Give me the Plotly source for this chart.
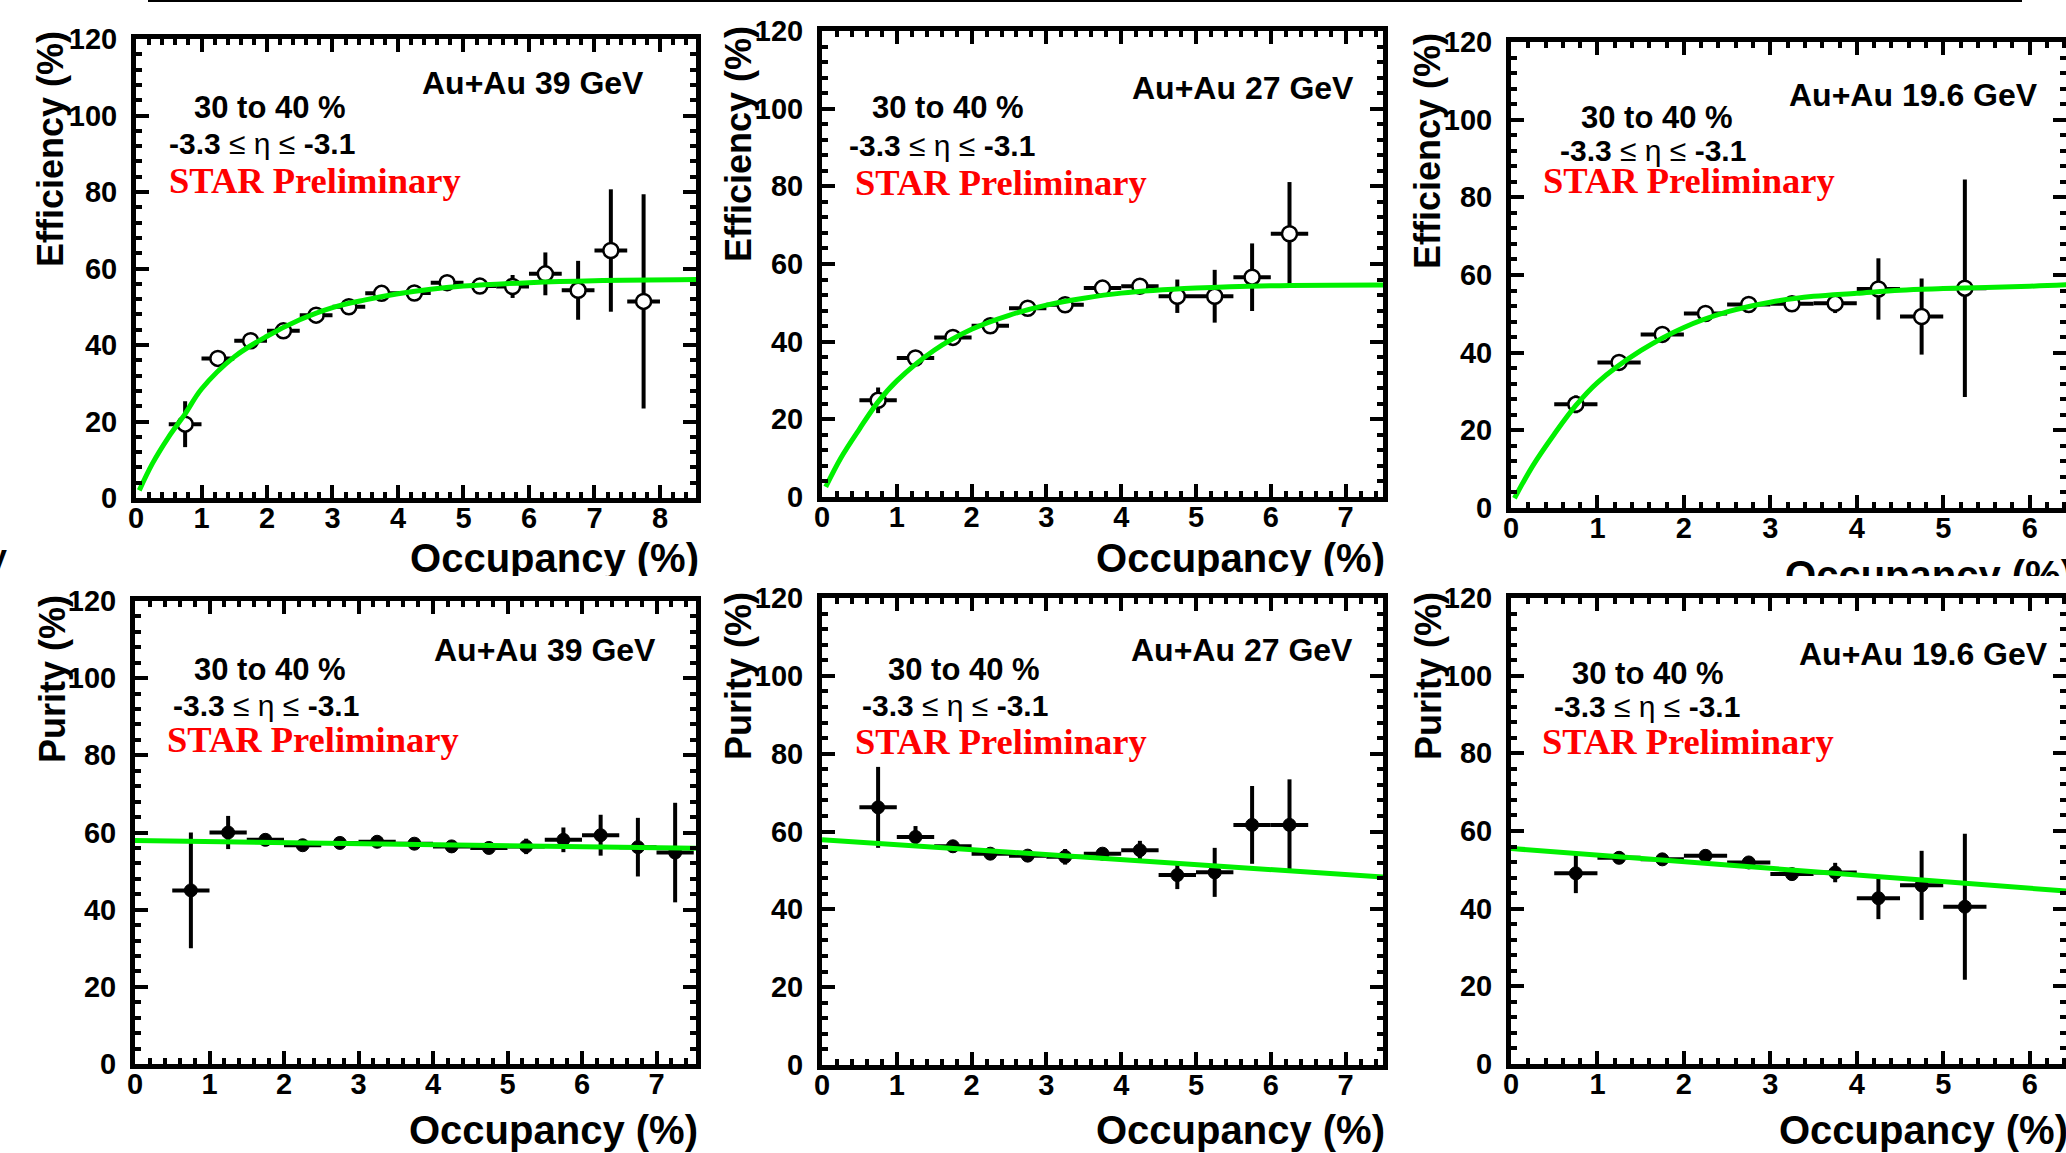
import plotly.graph_objects as go

W, H = 2066, 1153

# ---------------- data ----------------
BIN_HALF_WIDTH = 0.25

# Efficiency, Au+Au 39 GeV
eff39_x = [0.75, 1.25, 1.75, 2.25, 2.75, 3.25, 3.75, 4.25, 4.75, 5.25, 5.75, 6.25, 6.75, 7.25, 7.75]
eff39_y = [19.3, 36.5, 41.1, 43.7, 47.8, 50.0, 53.5, 53.6, 56.3, 55.4, 55.3, 58.6, 54.3, 64.7, 51.4]
eff39_e = [6.0, 1.5, 1.5, 1.5, 1.5, 1.5, 1.5, 1.5, 1.5, 1.5, 3.0, 5.6, 7.7, 16.0, 28.0]
fit39_x = [0.05, 0.25, 0.5, 0.75, 1.0, 1.5, 2.0, 2.5, 3.0, 3.5, 4.0, 4.5, 5.0, 6.0, 7.0, 8.55]
fit39_y = [2.0, 9.0, 16.0, 22.0, 28.5, 36.9, 42.3, 46.6, 49.8, 51.8, 53.4, 54.6, 55.4, 56.3, 56.8, 57.1]

# Efficiency, Au+Au 27 GeV
eff27_x = [0.75, 1.25, 1.75, 2.25, 2.75, 3.25, 3.75, 4.25, 4.75, 5.25, 5.75, 6.25]
eff27_y = [24.9, 35.8, 41.1, 44.1, 48.6, 49.5, 53.8, 54.3, 51.7, 51.7, 56.6, 67.8]
eff27_e = [3.3, 1.5, 1.5, 1.5, 1.5, 1.5, 1.5, 2.0, 4.3, 6.8, 8.7, 13.3]
fit27_x = [0.05, 0.25, 0.5, 0.75, 1.0, 1.5, 2.0, 2.5, 3.0, 3.5, 4.0, 5.0, 6.0, 7.5]
fit27_y = [2.6, 10.0, 17.5, 24.5, 29.9, 37.8, 43.2, 46.8, 49.4, 51.2, 52.5, 53.8, 54.4, 54.6]

# Efficiency, Au+Au 19.6 GeV
eff19_x = [0.75, 1.25, 1.75, 2.25, 2.75, 3.25, 3.75, 4.25, 4.75, 5.25]
eff19_y = [26.7, 37.5, 44.7, 50.1, 52.4, 52.6, 52.7, 56.4, 49.3, 56.6]
eff19_e = [2.3, 1.5, 1.5, 1.5, 1.5, 1.5, 2.5, 7.9, 9.8, 28.0]
fit19_x = [0.04, 0.25, 0.5, 0.75, 1.0, 1.5, 2.0, 2.5, 3.0, 3.5, 4.0, 4.5, 5.0, 6.0, 6.45]
fit19_y = [2.5, 10.8, 19.0, 26.4, 32.3, 40.5, 46.5, 50.5, 53.0, 54.5, 55.3, 56.1, 56.5, 57.1, 57.5]

# Purity, Au+Au 39 GeV
pur39_x = [0.75, 1.25, 1.75, 2.25, 2.75, 3.25, 3.75, 4.25, 4.75, 5.25, 5.75, 6.25, 6.75, 7.25]
pur39_y = [45.0, 60.0, 58.1, 56.7, 57.3, 57.6, 57.1, 56.4, 56.0, 56.4, 58.1, 59.3, 56.2, 54.8]
pur39_e = [15.0, 4.3, 1.5, 1.5, 1.5, 1.5, 1.0, 1.5, 1.5, 2.0, 3.2, 5.3, 7.6, 12.9]
pfit39_x = [0.0, 7.55]
pfit39_y = [57.9, 55.9]

# Purity, Au+Au 27 GeV
pur27_x = [0.75, 1.25, 1.75, 2.25, 2.75, 3.25, 3.75, 4.25, 4.75, 5.25, 5.75, 6.25]
pur27_y = [66.2, 58.6, 56.2, 54.3, 53.8, 53.5, 54.3, 55.2, 48.8, 49.5, 61.7, 61.7]
pur27_e = [10.4, 2.8, 1.5, 1.5, 1.5, 2.0, 1.5, 2.4, 3.6, 6.3, 10.0, 11.7]
pfit27_x = [0.0, 7.5]
pfit27_y = [57.9, 48.3]

# Purity, Au+Au 19.6 GeV
pur19_x = [0.75, 1.25, 1.75, 2.25, 2.75, 3.25, 3.75, 4.25, 4.75, 5.25]
pur19_y = [49.1, 53.1, 52.7, 53.6, 51.9, 48.9, 49.3, 42.7, 46.0, 40.5]
pur19_e = [5.1, 1.5, 1.5, 1.5, 1.5, 1.5, 2.5, 5.4, 8.9, 18.8]
pfit19_x = [0.0, 6.45]
pfit19_y = [55.5, 44.5]

energies = ["Au+Au 39 GeV", "Au+Au 27 GeV", "Au+Au 19.6 GeV"]
centrality = "30 to 40 %"
eta_text = "<b>-3.3</b> ≤ η ≤ <b>-3.1</b>"
star_text = "STAR Preliminary"
x_title = "Occupancy (%)"
y_titles = ["Efficiency (%)", "Purity (%)"]
y_tick_vals = [0, 20, 40, 60, 80, 100, 120]

# ---------------- layout helpers ----------------
def PX(x):
    return x / W

def PY(y):
    return 1 - y / H

SANS = "Liberation Sans, Arial, Helvetica, sans-serif"
SERIF = "Liberation Serif, Times New Roman, serif"

panels = [
    dict(frame=(136, 39, 696, 498), xmax=8.55, x=eff39_x, y=eff39_y, e=eff39_e, fx=fit39_x, fy=fit39_y,
         openm=True, spline=True, energy=energies[0], ytitle=y_titles[0],
         t_en=(420, 83), t_cen=(192, 108), t_eta=(167, 143), t_star=(167, 181), t_yt=(50, 149)),
    dict(frame=(822, 31, 1383, 497), xmax=7.5, x=eff27_x, y=eff27_y, e=eff27_e, fx=fit27_x, fy=fit27_y,
         openm=True, spline=True, energy=energies[1], ytitle=y_titles[0],
         t_en=(1130, 88), t_cen=(870, 108), t_eta=(847, 145), t_star=(853, 183), t_yt=(738, 144)),
    dict(frame=(1511, 42, 2066, 508), xmax=6.42, x=eff19_x, y=eff19_y, e=eff19_e, fx=fit19_x, fy=fit19_y,
         openm=True, spline=True, energy=energies[2], ytitle=y_titles[0],
         t_en=(1787, 95), t_cen=(1579, 117), t_eta=(1558, 151), t_star=(1541, 181), t_yt=(1428, 151)),
    dict(frame=(135, 601, 696, 1064), xmax=7.53, x=pur39_x, y=pur39_y, e=pur39_e, fx=pfit39_x, fy=pfit39_y,
         openm=False, spline=False, energy=energies[0], ytitle=y_titles[1],
         t_en=(432, 650), t_cen=(192, 669), t_eta=(171, 705), t_star=(165, 739), t_yt=(52, 679)),
    dict(frame=(822, 598, 1383, 1065), xmax=7.5, x=pur27_x, y=pur27_y, e=pur27_e, fx=pfit27_x, fy=pfit27_y,
         openm=False, spline=False, energy=energies[1], ytitle=y_titles[1],
         t_en=(1129, 650), t_cen=(886, 669), t_eta=(860, 705), t_star=(853, 741), t_yt=(738, 676)),
    dict(frame=(1511, 598, 2066, 1064), xmax=6.42, x=pur19_x, y=pur19_y, e=pur19_e, fx=pfit19_x, fy=pfit19_y,
         openm=False, spline=False, energy=energies[2], ytitle=y_titles[1],
         t_en=(1797, 654), t_cen=(1570, 673), t_eta=(1552, 706), t_star=(1540, 741), t_yt=(1428, 676)),
]

fig = go.Figure()
layout = dict(
    template="none",
    width=W, height=H, margin=dict(l=0, r=0, t=0, b=0, pad=0, autoexpand=False),
    paper_bgcolor="white", plot_bgcolor="white", showlegend=False,
)
annotations = []

tickfont = dict(family=SANS, size=29, color="black", weight="bold")
FIT_GREEN = "#00f000"

for i, p in enumerate(panels):
    n = i + 1
    xa = "x" if n == 1 else f"x{n}"
    ya = "y" if n == 1 else f"y{n}"
    xkey = "xaxis" if n == 1 else f"xaxis{n}"
    ykey = "yaxis" if n == 1 else f"yaxis{n}"
    l, t, r, b = p["frame"]

    common = dict(showline=True, linewidth=5, linecolor="black", mirror="allticks",
                  ticks="inside", ticklen=13, tickwidth=4, tickcolor="black", automargin=False,
                  showgrid=False, zeroline=False, tickfont=tickfont, fixedrange=True)
    layout[xkey] = dict(common, domain=[PX(l), PX(r)], range=[0, p["xmax"]], anchor=ya,
                        tick0=0, dtick=1, ticklabelstandoff=-10,
                        minor=dict(ticks="inside", ticklen=6, tickwidth=4, tickcolor="black",
                                   dtick=0.2, tick0=0, showgrid=False))
    layout[ykey] = dict(common, domain=[PY(b), PY(t)], range=[0, 120], anchor=xa,
                        tickvals=y_tick_vals, ticklabelstandoff=8,
                        minor=dict(ticks="inside", ticklen=6, tickwidth=4, tickcolor="black",
                                   dtick=4, tick0=0, showgrid=False))

    if p["openm"]:
        marker = dict(symbol="circle", size=15, color="white", line=dict(color="black", width=2.5))
    else:
        marker = dict(symbol="circle", size=13, color="black", line=dict(color="black", width=1))

    fig.add_trace(go.Scatter(
        x=p["x"], y=p["y"], mode="markers", xaxis=xa, yaxis=ya, marker=marker,
        error_y=dict(type="data", array=p["e"], visible=True, color="black", thickness=4, width=0),
        error_x=dict(type="constant", value=BIN_HALF_WIDTH, visible=True, color="black", thickness=4, width=0),
        cliponaxis=True, hoverinfo="skip"))
    fig.add_trace(go.Scatter(
        x=p["fx"], y=p["fy"], mode="lines", xaxis=xa, yaxis=ya,
        line=dict(color=FIT_GREEN, width=5, shape="spline" if p["spline"] else "linear"),
        hoverinfo="skip"))

    def ann(text, pos, font, xanchor="left", **kw):
        annotations.append(dict(text=text, x=PX(pos[0]), y=PY(pos[1]), xref="paper", yref="paper",
                                xanchor=xanchor, yanchor="middle", showarrow=False, font=font, **kw))

    ann(p["energy"], p["t_en"], dict(family=SANS, size=32, color="black", weight="bold"))
    ann(centrality, p["t_cen"], dict(family=SANS, size=31, color="black", weight="bold"))
    ann(eta_text, p["t_eta"], dict(family=SANS, size=30, color="black"))
    ann(star_text, p["t_star"], dict(family=SERIF, size=36.5, color="#ff0000", weight="bold"))
    ann(p["ytitle"], p["t_yt"], dict(family=SANS, size=36, color="black", weight="bold"),
        xanchor="center", textangle=-90)

    # x-axis title
    if n >= 4:
        ann(x_title, (r + 4, 1130), dict(family=SANS, size=40, color="black", weight="bold"),
            xanchor="right")

# top-row x titles are cut off by the panel below: draw them in clipped text subplots
top_titles = [(134, 698, 699, 562), (820, 1385, 1385, 562), (1509, 2066, 2074, 579)]
for k, (l, r, xr, yc) in enumerate(top_titles):
    n = 7 + k
    xkey, ykey = f"xaxis{n}", f"yaxis{n}"
    cut_top, cut_bot = 530, 576
    layout[xkey] = dict(domain=[PX(l), PX(r)], range=[l, r], visible=False, anchor=f"y{n}",
                        fixedrange=True, automargin=False)
    layout[ykey] = dict(domain=[PY(cut_bot), PY(cut_top)], range=[cut_bot, cut_top], visible=False,
                        anchor=f"x{n}", fixedrange=True, automargin=False)
    fig.add_trace(go.Scatter(x=[xr], y=[yc], mode="text", text=[x_title], textposition="middle left",
                             xaxis=f"x{n}", yaxis=f"y{n}", cliponaxis=True, hoverinfo="skip",
                             textfont=dict(family=SANS, size=40, color="black", weight="bold")))

# fragment of a neighbouring label at the left edge
annotations.append(dict(text="y", x=PX(9), y=PY(556), xref="paper", yref="paper", xanchor="right",
                        yanchor="middle", showarrow=False,
                        font=dict(family=SANS, size=34, color="black", weight="bold")))

layout["annotations"] = annotations
layout["shapes"] = [dict(type="line", xref="paper", yref="paper", x0=PX(148), x1=PX(2022),
                         y0=PY(1), y1=PY(1), line=dict(color="black", width=2))]
fig.update_layout(**layout)
fig.write_html("out.html", config=dict(displayModeBar=False),
               post_script="document.body.style.margin='0';document.body.style.overflow='hidden';")
